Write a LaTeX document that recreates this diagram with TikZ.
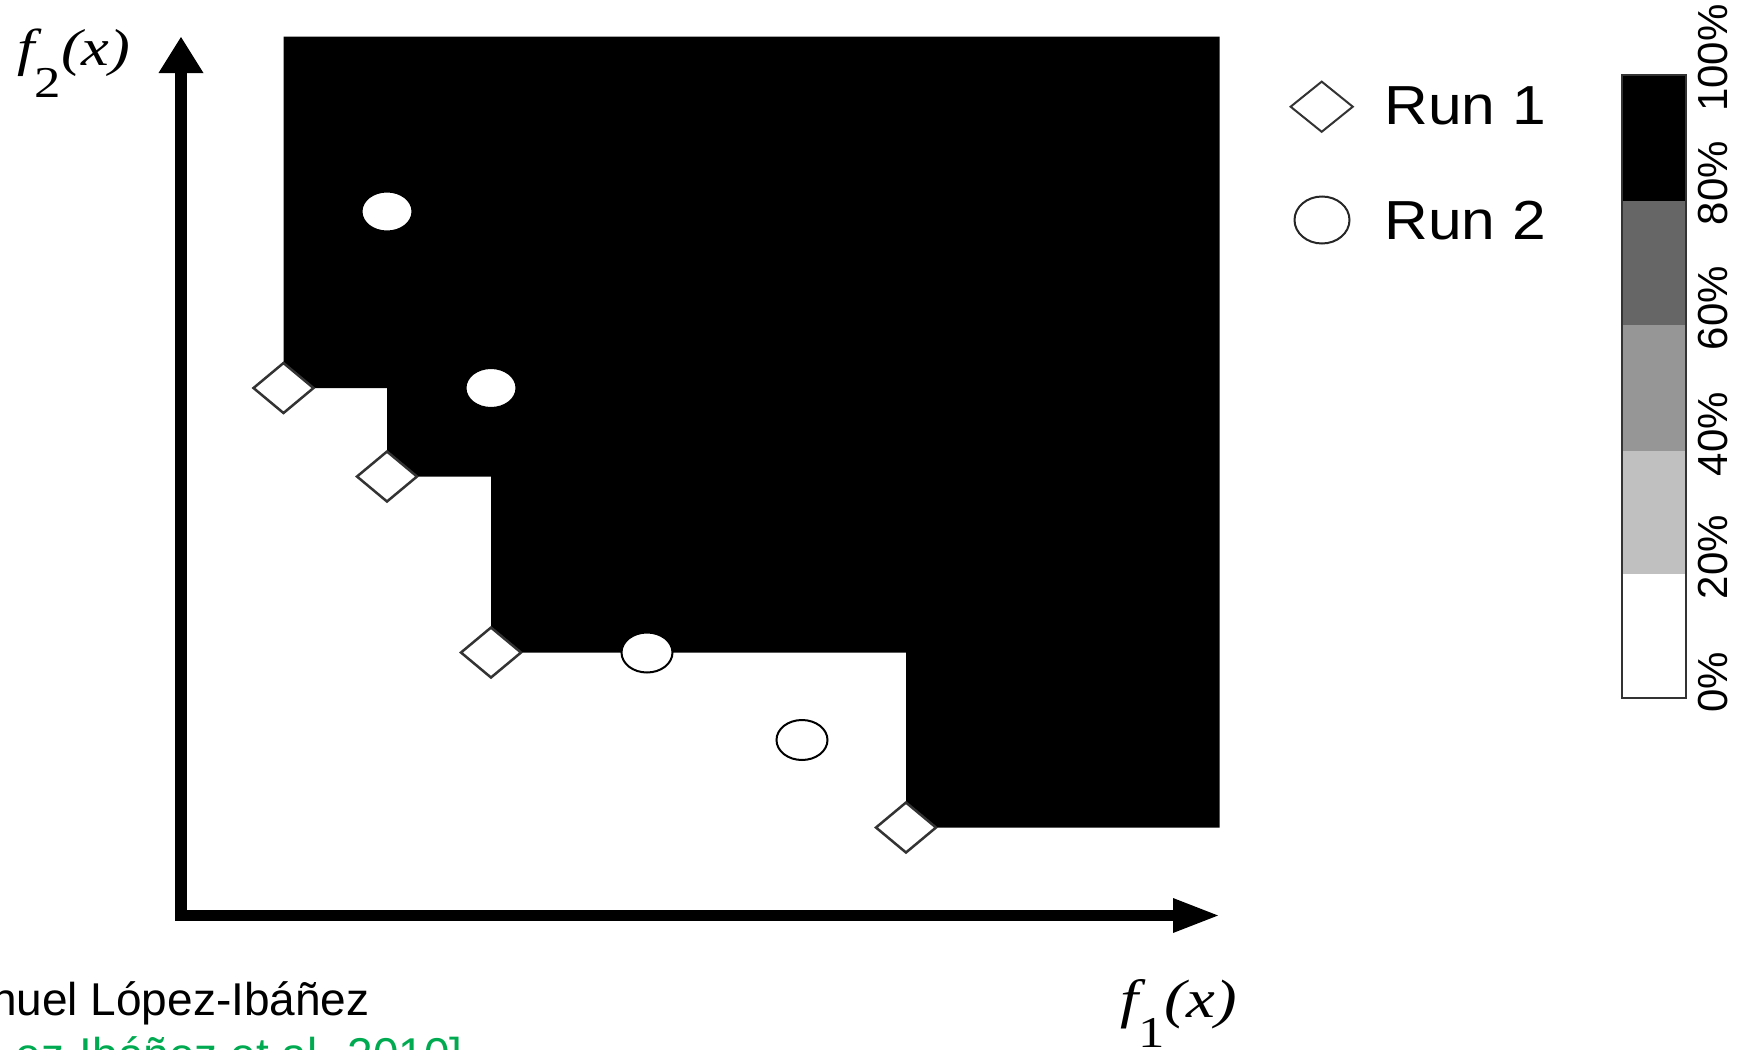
\documentclass[tikz,border=0pt]{standalone}
\usepackage{fontspec}
\setmainfont{Liberation Sans}
\newfontfamily\tms{Liberation Serif}
\newfontfamily\legfont[FakeStretch=1.1]{Liberation Sans}
\usetikzlibrary{arrows.meta,shapes.geometric}
\definecolor{refgreen}{RGB}{0,170,80}
\definecolor{darkband}{RGB}{102,102,102}
\definecolor{midband}{RGB}{150,150,150}
\definecolor{lightband}{RGB}{192,192,192}
\tikzset{
  dmark/.style={diamond, draw=black!80, fill=white, line width=1.25pt,
    minimum width=30pt, minimum height=25pt, inner sep=0pt, outer sep=0pt},
  emark/.style={ellipse, draw=black, fill=white, line width=1pt,
    minimum width=25.5pt, minimum height=20pt, inner sep=0pt, outer sep=0pt},
  legd/.style={diamond, draw=black!80, fill=white, line width=1pt,
    minimum width=31.5pt, minimum height=25.5pt, inner sep=0pt},
  lege/.style={ellipse, draw=black!85, fill=white, line width=1pt,
    minimum width=27.5pt, minimum height=23.5pt, inner sep=0pt},
  legtext/.style={anchor=base west, inner sep=0pt, font=\legfont\fontsize{27.5}{30}\selectfont},
  barlab/.style={rotate=90, inner sep=0pt, font=\fontsize{21}{21}\selectfont},
  axis/.style={line width=5.75pt, line join=miter,
    arrows={Triangle[length=18pt,width=22.5pt,line width=0pt]-Triangle[length=22.5pt,width=17.5pt,line width=0pt]}},
  axlab/.style={anchor=base west, inner sep=0pt},
  foot/.style={inner sep=0pt, font=\fontsize{23}{25}\selectfont}
}
\begin{document}
\begin{tikzpicture}[x=0.5pt,y=-0.5pt]
\useasboundingbox (0,0) rectangle (1737,1050);
\clip (0,0) rectangle (1737,1050);
\fill[white] (0,0) rectangle (1737,1050);

% dominated region (black)
\fill[black] (283.5,36.6) -- (283.5,388) -- (387,388) -- (387,476.5)
  -- (491,476.5) -- (491,652.5) -- (906,652.5) -- (906,827.5)
  -- (1219.7,827.5) -- (1219.7,36.6) -- cycle;

% axes
\coordinate (ytip) at (181,37);
\coordinate (origin) at (181,915.5);
\coordinate (xtip) at (1218,915.5);
\draw[axis] (ytip) -- (origin) -- (xtip);

% Run 1 points
\node[dmark] (d1) at (283.5,388) {};
\node[dmark] (d2) at (387,476.5) {};
\node[dmark] (d3) at (491,652.5) {};
\node[dmark] (d4) at (906,827.5) {};

% Run 2 points
\node[emark] (c1) at (387,211.5) {};
\node[emark] (c2) at (491,388) {};
\node[emark] (c3) at (647,652.5) {};
\node[emark] (c4) at (802,740) {};

% axis labels
\node[axlab] (f2lab) at (17,65)
  {\scalebox{1.2}[1]{\fontsize{26}{26}\tms\itshape f\raisebox{-16pt}{\upshape\fontsize{22}{22}\selectfont 2}(x)}};
\node[axlab] (f1lab) at (1120,1017)
  {\scalebox{1.2}[1]{\fontsize{27}{27}\tms\itshape f\raisebox{-15pt}{\upshape\fontsize{22}{22}\selectfont 1}(x)}};

% legend
\node[legd] (ld) at (1321.7,106.7) {};
\node[legtext] (lt1) at (1384,124) {Run 1};
\node[lege] (lc) at (1322,220) {};
\node[legtext] (lt2) at (1384,239) {Run 2};

% colour bar
\fill[black] (1622,75) rectangle (1686,200.5);
\fill[darkband] (1622,200.5) rectangle (1686,324.6);
\fill[midband] (1622,324.6) rectangle (1686,450.9);
\fill[lightband] (1622,450.9) rectangle (1686,574);
\fill[white] (1622,574) rectangle (1686,698);
\draw[black!80, line width=1pt] (1622,75) rectangle (1686,698);
\node[barlab] (b0) at (1713,682) {0\%};
\node[barlab] (b20) at (1713,557) {20\%};
\node[barlab] (b40) at (1713,434) {40\%};
\node[barlab] (b60) at (1713,308) {60\%};
\node[barlab] (b80) at (1713,183) {80\%};
\node[barlab] (b100) at (1713,58) {100\%};

% footer
\node[foot, anchor=base east] (auth) at (370,1015) {nuel López-Ibáñez};
\node[foot, anchor=base east, text=refgreen] (cite) at (463,1070) {ez-Ibáñez et al. 2010]};
\end{tikzpicture}
\end{document}
